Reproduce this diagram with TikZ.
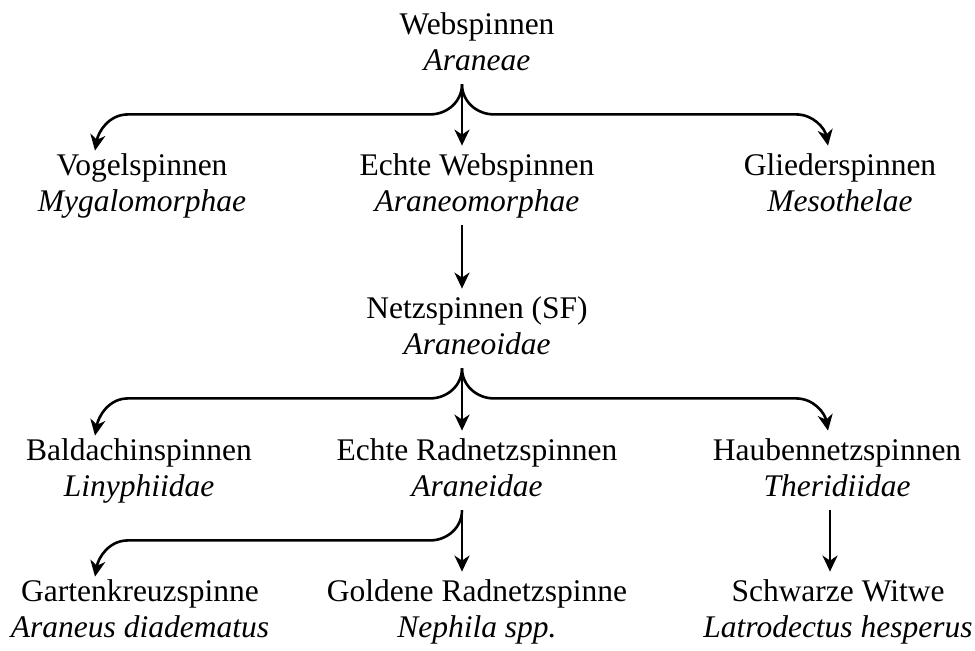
\documentclass[tikz,border=0pt]{standalone}
\usepackage{fontspec}
\setmainfont{Liberation Serif}
\usetikzlibrary{calc,arrows.meta}
\newcommand{\taxon}[2]{\strut#1\\\textit{#2}\strut}

\begin{document}
\begin{tikzpicture}[x=0.5pt,y=0.5pt,
	taxon/.style={align=center,inner sep=0pt,font=\fontsize{15.75pt}{18pt}\selectfont},
	link/.style={line width=1.3pt,-{Stealth[length=8pt,width=7.5pt,inset=2.5pt]}}]
	\useasboundingbox (0,0) rectangle (975,-650);
	\node[taxon] (araneae) at (477,-45) {\taxon{Webspinnen}{Araneae}};
	\node[taxon] (mygalo) at (142,-186) {\taxon{Vogelspinnen}{Mygalomorphae}};
	\node[taxon] (araneomorph) at (477,-186) {\taxon{Echte Webspinnen}{Araneomorphae}};
	\node[taxon] (mesoth) at (840,-186) {\taxon{Gliederspinnen}{Mesothelae}};
	\node[taxon] (araneoid) at (477,-329) {\taxon{Netzspinnen (SF)}{Araneoidae}};
	\node[taxon] (linyph) at (139,-471) {\taxon{Baldachinspinnen}{Linyphiidae}};
	\node[taxon] (araneid) at (477,-471) {\taxon{Echte Radnetzspinnen}{Araneidae}};
	\node[taxon] (therid) at (837,-471) {\taxon{Haubennetzspinnen}{Theridiidae}};
	\node[taxon] (diadem) at (140,-612) {\taxon{Gartenkreuzspinne}{Araneus diadematus}};
	\node[taxon] (nephila) at (477,-612) {\taxon{Goldene Radnetzspinne}{Nephila spp.}};
	\node[taxon] (latro) at (838,-612) {\taxon{Schwarze Witwe}{Latrodectus hesperus}};

	\coordinate (s1) at ($(araneae.south)+(-15,-3)$);
	\coordinate (h1) at ($(s1)+(0,-30)$);
	\draw[link] (s1) -- ($(araneomorph.north)+(-15,4)$);
	\draw[link] (s1) to[out=-90,in=0] ($(h1)+(-32,0)$) -- ($(h1 -| mygalo.north)+(-14,0)$)
		to[out=180,in=80] ($(mygalo.north)+(-47,-1)$);
	\draw[link] (s1) to[out=-90,in=180] ($(h1)+(32,0)$) -- ($(h1 -| mesoth.north)+(-44,0)$)
		to[out=0,in=100] ($(mesoth.north)+(-12,4)$);

	\draw[link] ($(araneomorph.south)+(-15,-3)$) -- ($(araneoid.north)+(-15,4)$);

	\coordinate (s3) at ($(araneoid.south)+(-15,-3)$);
	\coordinate (h3) at ($(s3)+(0,-30)$);
	\draw[link] (s3) -- ($(araneid.north)+(-15,4)$);
	\draw[link] (s3) to[out=-90,in=0] ($(h3)+(-32,0)$) -- ($(h3 -| linyph.north)+(-11,0)$)
		to[out=180,in=80] ($(linyph.north)+(-44,-1)$);
	\draw[link] (s3) to[out=-90,in=180] ($(h3)+(32,0)$) -- ($(h3 -| therid.north)+(-41,0)$)
		to[out=0,in=100] ($(therid.north)+(-9,4)$);

	\coordinate (s4) at ($(araneid.south)+(-15,-3)$);
	\coordinate (h4) at ($(s4)+(0,-30)$);
	\draw[link] (s4) -- ($(nephila.north)+(-15,4)$);
	\draw[link] (s4) to[out=-90,in=0] ($(h4)+(-32,0)$) -- ($(h4 -| diadem.north)+(-12,0)$)
		to[out=180,in=80] ($(diadem.north)+(-45,-1)$);

	\draw[link] ($(therid.south)+(-7,-3)$) -- ($(latro.north)+(-8,4)$);
\end{tikzpicture}
\end{document}
